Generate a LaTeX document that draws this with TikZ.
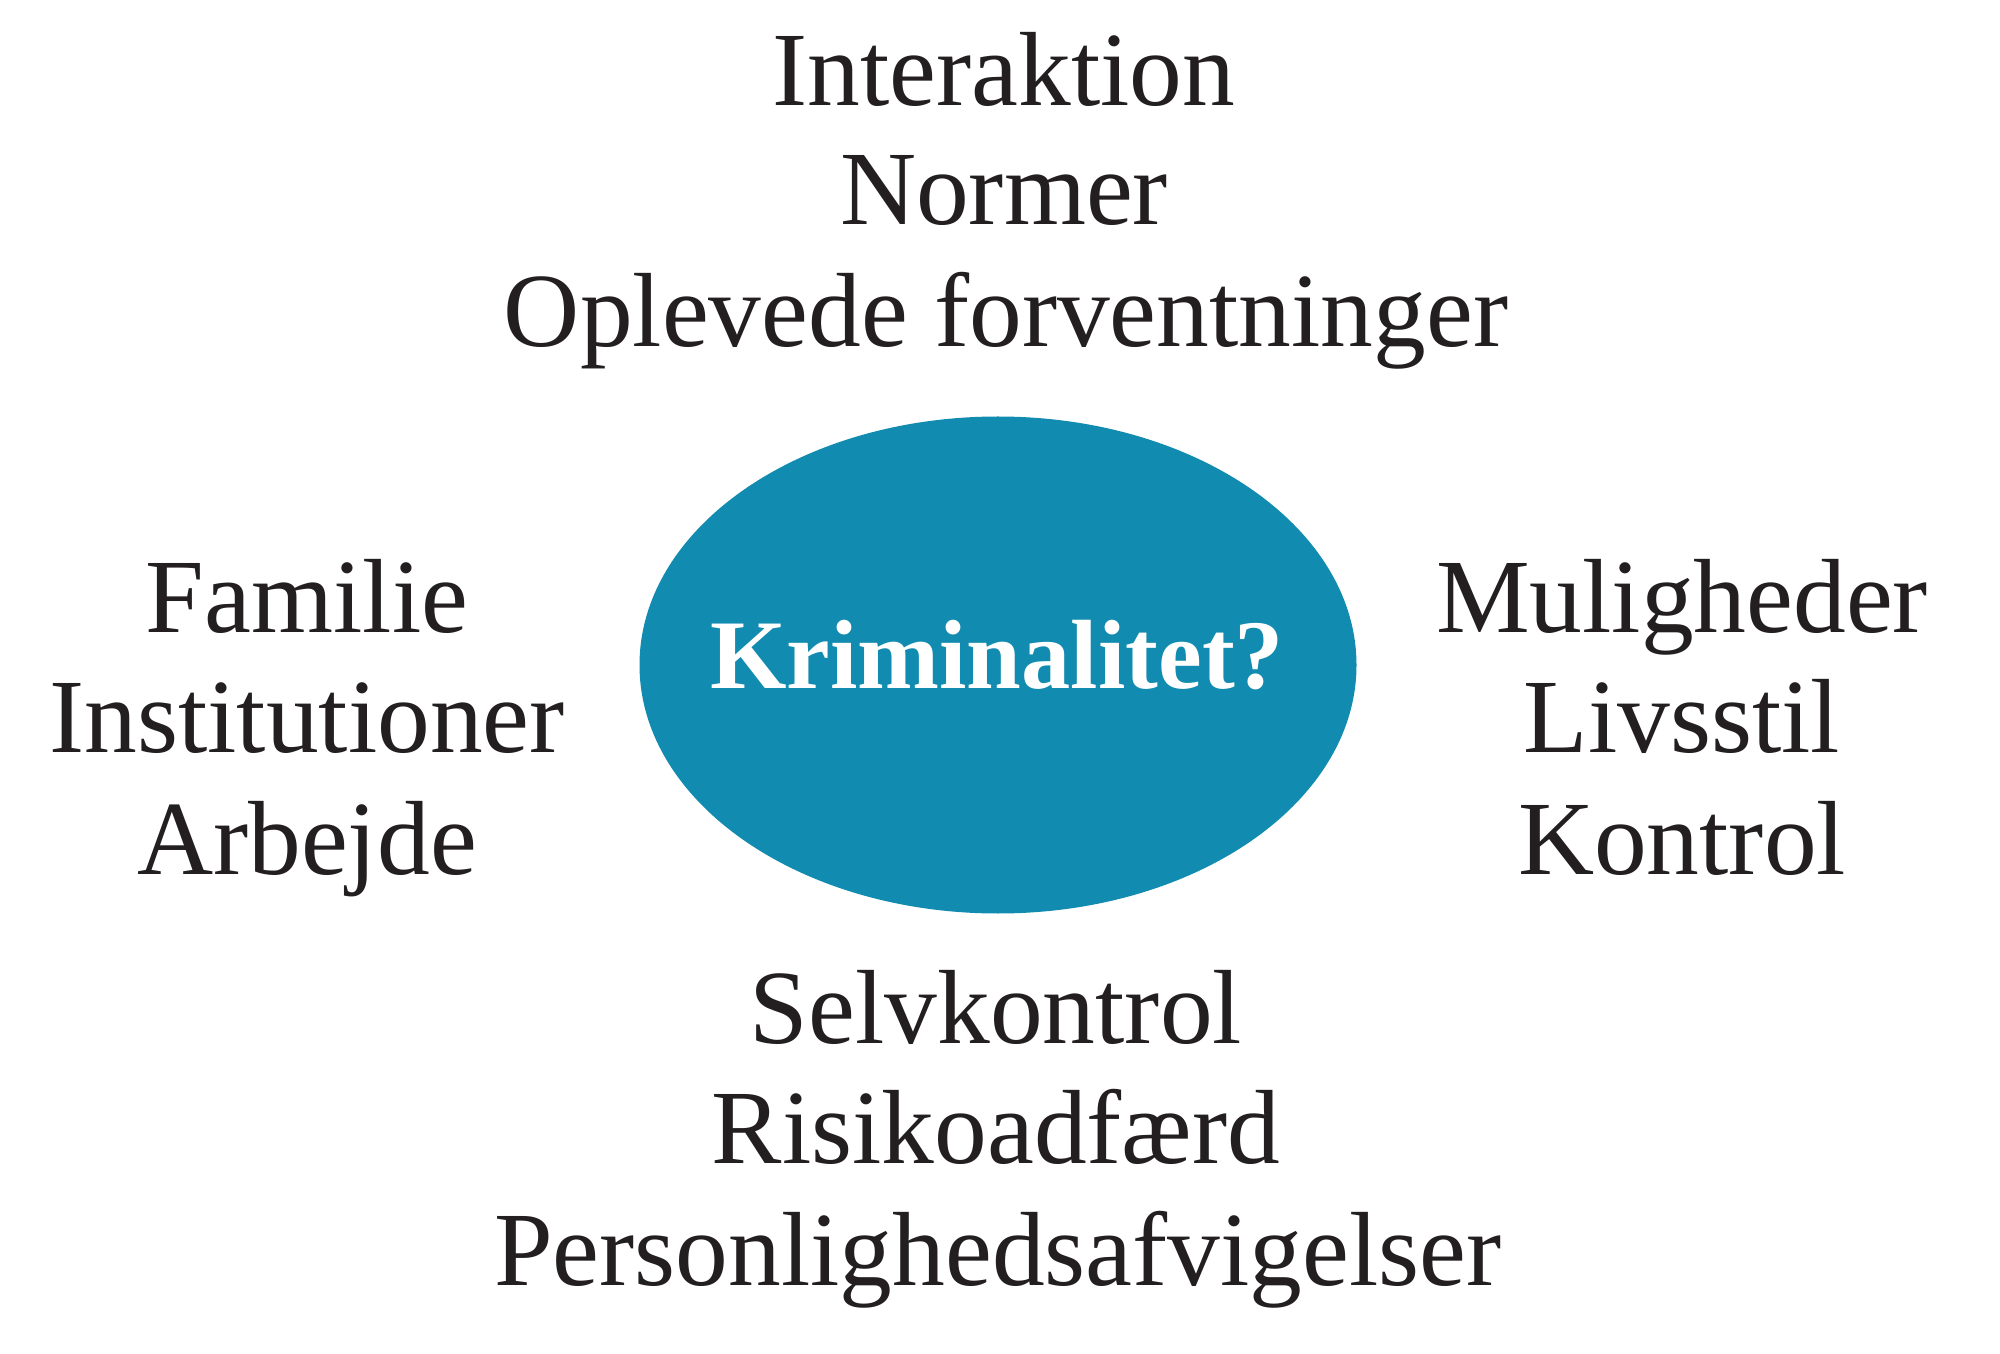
\documentclass[tikz,border=0pt]{standalone}
\usepackage{fontspec}
\setmainfont{Liberation Serif}
\usetikzlibrary{shapes.geometric}
\definecolor{krimblue}{RGB}{17,139,175}
\definecolor{textgray}{RGB}{35,31,32}
\tikzset{
  factor/.style={anchor=base, inner sep=0pt, text=textgray, font=\fontsize{30}{36}\selectfont},
  centre/.style={ellipse, fill=krimblue, inner sep=0pt, minimum width=7.17cm, minimum height=4.97cm},
  centretext/.style={anchor=base, inner sep=0pt, text=white, font=\fontsize{28}{34}\selectfont\bfseries}
}
\begin{document}
\begin{tikzpicture}
                \useasboundingbox (0,0) rectangle (20,13.53);
                \node[centre] (Krim) at (9.98,6.88) {};
                \node[centretext] (KrimText) at (9.97,6.64) {Kriminalitet?};
                % oven
                \node[factor] (Interaktion) at (10.04,12.47) {Interaktion};
                \node[factor] (Normer) at (10.04,11.28) {Normer};
                \node[factor] (Forvent) at (10.06,10.06) {Oplevede forventninger};
                % venstre
                \node[factor] (Familie) at (3.07,7.20) {Familie};
                \node[factor] (Inst) at (3.07,6.00) {Institutioner};
                \node[factor] (Arbejde) at (3.07,4.79) {Arbejde};
                % hoejre
                \node[factor] (Mulig) at (16.82,7.20) {Muligheder};
                \node[factor] (Livsstil) at (16.82,6.00) {Livsstil};
                \node[factor] (Kontrol) at (16.82,4.79) {Kontrol};
                % neden
                \node[factor] (Selvk) at (9.96,3.10) {Selvkontrol};
                \node[factor] (Risiko) at (9.96,1.90) {Risikoadfærd};
                \node[factor] (Person) at (9.98,0.68) {Personlighedsafvigelser};
            \end{tikzpicture}
\end{document}
